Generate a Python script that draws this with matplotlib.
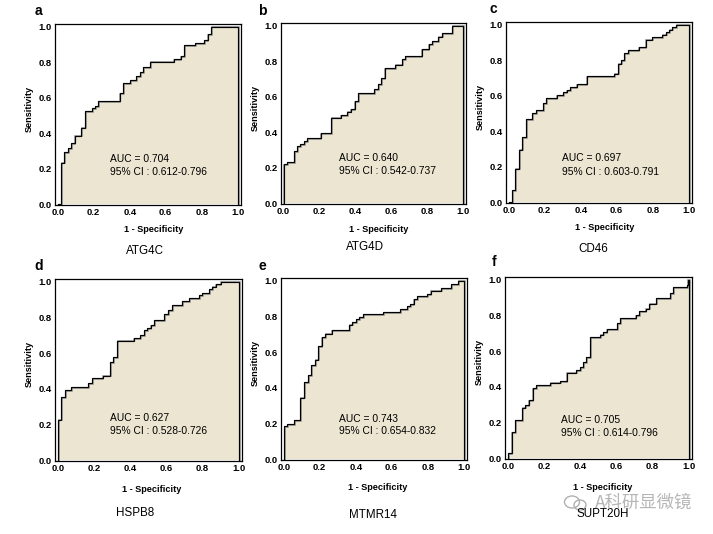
import matplotlib
matplotlib.use('Agg')
import matplotlib.pyplot as plt
import matplotlib.transforms as mtransforms
from matplotlib.patches import Ellipse

plt.rcParams['font.family'] = ['Liberation Sans', 'DejaVu Sans']

# ---------------- data ----------------
genes = ['ATG4C', 'ATG4D', 'CD46', 'HSPB8', 'MTMR14', 'SUPT20H']
letters = ['a', 'b', 'c', 'd', 'e', 'f']
auc_values = ['0.704', '0.640', '0.697', '0.627', '0.743', '0.705']
ci_values = ['0.612-0.796', '0.542-0.737', '0.603-0.791',
             '0.528-0.726', '0.654-0.832', '0.614-0.796']
tick_values = [0.0, 0.2, 0.4, 0.6, 0.8, 1.0]
tick_labels = ['0.0', '0.2', '0.4', '0.6', '0.8', '1.0']

# ROC step corners: at each FPR the sensitivity jumps to the given TPR
fpr_atg4c = [0.019, 0.037, 0.056, 0.074, 0.094, 0.131, 0.152, 0.189, 0.206, 0.224,
             0.344, 0.361, 0.400, 0.437, 0.456, 0.474, 0.513, 0.644, 0.683, 0.704,
             0.761, 0.815, 0.833, 0.854]
tpr_atg4c = [0.235, 0.293, 0.316, 0.344, 0.387, 0.432, 0.527, 0.540, 0.553, 0.580,
             0.628, 0.684, 0.698, 0.722, 0.746, 0.774, 0.804, 0.817, 0.836, 0.896,
             0.909, 0.924, 0.958, 1.000]

fpr_atg4d = [0.000, 0.019, 0.056, 0.074, 0.093, 0.112, 0.132, 0.206, 0.264, 0.318,
             0.355, 0.374, 0.396, 0.414, 0.507, 0.526, 0.545, 0.563, 0.623, 0.660,
             0.678, 0.770, 0.809, 0.827, 0.864, 0.883, 0.941]
tpr_atg4d = [0.221, 0.232, 0.294, 0.322, 0.336, 0.351, 0.368, 0.397, 0.483, 0.498,
             0.517, 0.529, 0.574, 0.619, 0.643, 0.673, 0.704, 0.763, 0.781, 0.811,
             0.827, 0.866, 0.897, 0.912, 0.939, 0.958, 1.000]

fpr_cd46 = [0.019, 0.037, 0.056, 0.076, 0.095, 0.132, 0.151, 0.190, 0.208, 0.266,
            0.303, 0.322, 0.340, 0.377, 0.433, 0.587, 0.606, 0.625, 0.643, 0.662,
            0.721, 0.760, 0.797, 0.853, 0.872, 0.890, 0.909, 0.929]
tpr_cd46 = [0.071, 0.190, 0.297, 0.368, 0.470, 0.502, 0.520, 0.561, 0.589, 0.604,
            0.619, 0.632, 0.651, 0.664, 0.710, 0.725, 0.781, 0.799, 0.842, 0.855,
            0.874, 0.916, 0.929, 0.944, 0.957, 0.972, 0.985, 1.000]

fpr_hspb8 = [0.002, 0.020, 0.039, 0.076, 0.169, 0.191, 0.248, 0.289, 0.307, 0.326,
             0.419, 0.457, 0.476, 0.494, 0.513, 0.531, 0.589, 0.609, 0.631, 0.687,
             0.724, 0.780, 0.798, 0.835, 0.854, 0.872, 0.900]
tpr_hspb8 = [0.229, 0.353, 0.394, 0.409, 0.432, 0.460, 0.475, 0.550, 0.578, 0.670,
             0.685, 0.700, 0.728, 0.741, 0.756, 0.784, 0.820, 0.839, 0.867, 0.891,
             0.906, 0.925, 0.938, 0.957, 0.972, 0.985, 1.000]

fpr_mtmr14 = [0.000, 0.019, 0.056, 0.093, 0.113, 0.136, 0.154, 0.173, 0.191, 0.210,
              0.229, 0.266, 0.362, 0.381, 0.400, 0.420, 0.439, 0.550, 0.647, 0.684,
              0.703, 0.721, 0.740, 0.797, 0.816, 0.874, 0.929, 0.967]
tpr_mtmr14 = [0.185, 0.200, 0.219, 0.346, 0.431, 0.472, 0.528, 0.559, 0.635, 0.683,
              0.704, 0.722, 0.754, 0.769, 0.783, 0.796, 0.811, 0.824, 0.843, 0.857,
              0.870, 0.898, 0.913, 0.926, 0.944, 0.959, 0.981, 1.000]

fpr_supt20h = [0.004, 0.022, 0.041, 0.078, 0.097, 0.115, 0.138, 0.156, 0.232, 0.288,
               0.325, 0.379, 0.398, 0.416, 0.435, 0.454, 0.509, 0.528, 0.546, 0.604,
               0.623, 0.706, 0.725, 0.762, 0.781, 0.818, 0.896, 0.914, 0.989, 0.994]
tpr_supt20h = [0.030, 0.149, 0.214, 0.284, 0.299, 0.327, 0.392, 0.409, 0.424, 0.433,
               0.480, 0.494, 0.513, 0.537, 0.569, 0.678, 0.693, 0.706, 0.725, 0.755,
               0.783, 0.801, 0.823, 0.838, 0.866, 0.898, 0.926, 0.959, 0.972, 1.000]

fprs = [fpr_atg4c, fpr_atg4d, fpr_cd46, fpr_hspb8, fpr_mtmr14, fpr_supt20h]
tprs = [tpr_atg4c, tpr_atg4d, tpr_cd46, tpr_hspb8, tpr_mtmr14, tpr_supt20h]

# ---------------- layout (pixels) ----------------
W, H = 713, 534
boxes = [(55, 24, 241, 205), (281, 23, 466, 204), (506, 22, 692, 203),
         (55, 279, 242, 461), (281, 278, 467, 460), (505, 277, 692, 459)]
letter_pos = [(38, 11), (262, 11), (493, 9), (39, 266), (262, 266), (494, 262)]
xlabel_pos = [(154, 230), (379, 230), (605, 228), (152, 489), (378, 487), (603, 487)]
gene_pos = [(145, 251), (365, 247), (593, 249), (135, 513), (373, 515), (603, 514)]
text_pos = [(0.29, 0.255, 0.185), (0.307, 0.254, 0.18), (0.294, 0.251, 0.171),
            (0.289, 0.235, 0.163), (0.307, 0.226, 0.157), (0.292, 0.216, 0.145)]

FILL = '#ebe5d1'

fig = plt.figure(figsize=(W / 100, H / 100), dpi=100)
fig.patch.set_facecolor('white')

for i in range(6):
    l, t, r, b = boxes[i]
    ax = fig.add_axes([l / W, 1 - b / H, (r - l) / W, (b - t) / H])
    ax.set_facecolor('white')

    xs, ys = [0.0], [0.0]
    prev = 0.0
    for f, tp in zip(fprs[i], tprs[i]):
        xs += [f, f]
        ys += [prev, tp]
        prev = tp
    xs += [1.0, 1.0]
    ys += [prev, 0.0]

    ax.fill(xs, ys, color=FILL, lw=0, zorder=1)
    shadow = mtransforms.offset_copy(ax.transData, fig=fig, x=0.8, y=-0.8, units='dots')
    ax.plot(xs, ys, color='#8c8c8c', lw=1.1, transform=shadow, zorder=2,
            solid_joinstyle='miter')
    ax.plot(xs, ys, color='black', lw=0.85, zorder=3, solid_joinstyle='miter')

    ax.set_xlim(-0.015, 1.018)
    ax.set_ylim(-0.003, 1.015)
    ax.set_xticks(tick_values)
    ax.set_xticklabels(tick_labels)
    ax.set_yticks(tick_values)
    ax.set_yticklabels(tick_labels)
    ax.tick_params(length=0, pad=2.5, labelsize=6.8)
    for lab in ax.get_xticklabels() + ax.get_yticklabels():
        lab.set_fontweight('bold')
    for sp in ax.spines.values():
        sp.set_linewidth(0.9)
        sp.set_color('black')
        sp.set_zorder(4)

    tx, ty1, ty2 = text_pos[i]
    ax.text(tx, ty1, 'AUC = ' + auc_values[i], fontsize=7.4, va='center', ha='left', zorder=5)
    ax.text(tx, ty2, '95% CI : ' + ci_values[i], fontsize=7.4, va='center', ha='left', zorder=5)

    fig.text((l - 26) / W, 1 - ((t + b) / 2 - 6) / H, 'Sensitivity', rotation=90,
             fontsize=6.6, fontweight='bold', ha='center', va='center')
    lx, ly = xlabel_pos[i]
    fig.text(lx / W, 1 - ly / H, '1 - Specificity', fontsize=6.6, fontweight='bold',
             ha='center', va='center')
    gx, gy = gene_pos[i]
    fig.text(gx / W, 1 - gy / H, genes[i], fontsize=8.4, ha='center', va='center')
    px, py = letter_pos[i]
    fig.text(px / W, 1 - py / H, letters[i], fontsize=10, fontweight='bold',
             ha='center', va='center')

# watermark
fig.text(595 / W, 1 - 503 / H, 'A科研显微镜', fontsize=12.5, color='#a8a8a8', alpha=0.85,
         ha='left', va='center', family=['Noto Sans CJK SC', 'DejaVu Sans'])
wax = fig.add_axes([560 / W, 1 - 515 / H, 32 / W, 24 / H])
wax.set_xlim(0, 32)
wax.set_ylim(0, 24)
wax.axis('off')
wax.add_patch(Ellipse((12, 13), 15, 12, fill=False, ec='#b0b0b0', lw=1.0))
wax.add_patch(Ellipse((20, 10), 12, 10, fill=False, ec='#b0b0b0', lw=1.0))

fig.savefig('out.png', dpi=100, facecolor='white')
